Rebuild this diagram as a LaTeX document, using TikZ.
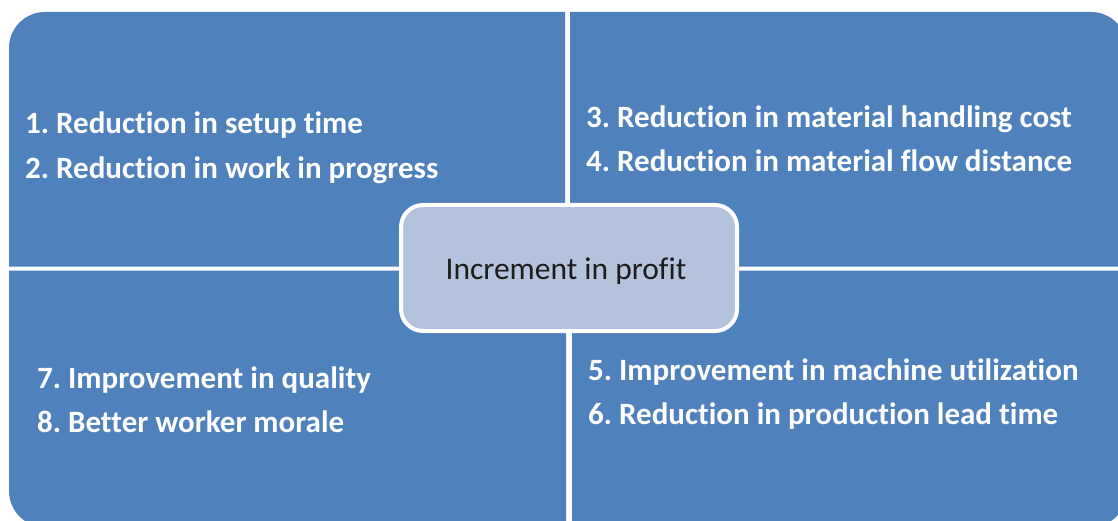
\documentclass[tikz,border=0pt]{standalone}
\usepackage{fontspec}
\setmainfont{Carlito}[Ligatures=NoCommon]
\definecolor{quadblue}{HTML}{4F81BD}
\definecolor{centerfill}{HTML}{B4C3DD}
\definecolor{centertext}{HTML}{1C1C1C}
\frenchspacing
\begin{document}
\begin{tikzpicture}[x=1pt,y=-1pt,
  quad/.style={fill=quadblue,draw=none},
  item/.style={anchor=base west,inner sep=0pt,text=white,font=\fontsize{31}{34}\selectfont\bfseries},
  centerbox/.style={fill=centerfill,draw=white,line width=4pt,rounded corners=22pt}]
\useasboundingbox (0,0) rectangle (1118,521);
\fill[white] (0,0) rectangle (1118,521);
% quadrants
\path[quad] (9,266.5) [rounded corners=36pt] -- (9,12) [sharp corners] -- (565,12) -- (565,266.5) -- cycle;
\path[quad] (570,12) [rounded corners=36pt] -- (1127,12) [sharp corners] -- (1127,266.5) -- (570,266.5) -- cycle;
\path[quad] (566,270.5) -- (566,527) [rounded corners=36pt] -- (9,527) [sharp corners] -- (9,270.5) -- cycle;
\path[quad] (572,270.5) -- (1127,270.5) [rounded corners=36pt] -- (1127,527) [sharp corners] -- (572,527) -- cycle;
% center
\path[centerbox] (401,205) rectangle (737,331);
\node[inner sep=0pt,anchor=base,text=centertext,font=\fontsize{31.5}{34}\selectfont] (center) at (566,279) {Increment in profit};
% texts
\node[item] (t1) at (25,134) {1. Reduction in setup time};
\node[item] (t2) at (25,179) {2. Reduction in work in progress};
\node[item] (t3) at (586,128) {3. Reduction in material handling cost};
\node[item] (t4) at (586,172) {4. Reduction in material flow distance};
\node[item] (t5) at (588,380) {5. Improvement in machine utilization};
\node[item] (t6) at (588,424) {6. Reduction in production lead time};
\node[item] (t7) at (37,388) {7. Improvement in quality};
\node[item] (t8) at (37,432) {8. Better worker morale};
\end{tikzpicture}
\end{document}
